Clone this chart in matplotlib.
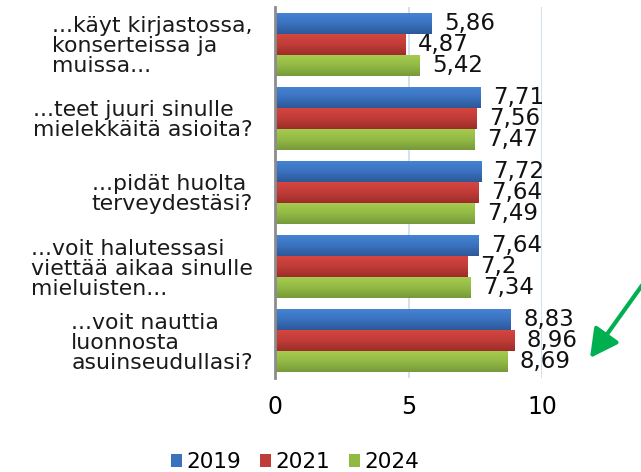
import numpy as np
import matplotlib
matplotlib.use("Agg")
import matplotlib.pyplot as plt
from matplotlib.colors import LinearSegmentedColormap

plt.rcParams['font.family'] = ['DejaVu Sans']

categories = [
    "...käyt kirjastossa,\nkonserteissa ja\nmuissa...",
    "...teet juuri sinulle\nmielekkäitä asioita?",
    "...pidät huolta\nterveydestäsi?",
    "...voit halutessasi\nviettää aikaa sinulle\nmieluisten...",
    "...voit nauttia\nluonnosta\nasuinseudullasi?",
]
years = ["2019", "2021", "2024"]
v2019 = [5.86, 7.71, 7.72, 7.64, 8.83]
v2021 = [4.87, 7.56, 7.64, 7.2, 8.96]
v2024 = [5.42, 7.47, 7.49, 7.34, 8.69]
xticks = [0, 5, 10]

series = [v2019, v2021, v2024]
top_cols = ["#4583D3", "#D4463F", "#A6CB4F"]
bot_cols = ["#2C5898", "#9C2C29", "#77993A"]
mid_cols = ["#3A72BE", "#C03C38", "#92B944"]

fig = plt.figure(figsize=(6.41, 4.72), dpi=100)
ax = fig.add_axes([275/641, 1-378/472, 267/641, 371/472])

y = np.arange(len(categories))
h = 0.283
offsets = [-h, 0, h]
containers = []
for i, (vals, yr) in enumerate(zip(series, years)):
    bc = ax.barh(y + offsets[i], vals, height=h, color=mid_cols[i], label=yr, zorder=3)
    containers.append(bc)
    cmap = LinearSegmentedColormap.from_list("g%d" % i, [top_cols[i], mid_cols[i], bot_cols[i]])
    grad = np.linspace(0, 1, 64).reshape(-1, 1)
    for p in bc.patches:
        x0, y0 = p.get_x(), p.get_y()
        w, hh = p.get_width(), p.get_height()
        im = ax.imshow(grad, cmap=cmap, aspect='auto', extent=(x0, x0 + w, y0 + hh, y0),
                       origin='upper', zorder=4)
        im.set_clip_path(p)
    labels = [("%g" % v).replace('.', ',') for v in vals]
    ax.bar_label(bc, labels=labels, padding=9, fontsize=16.5, color='#111111', zorder=5)

ax.set_xlim(0, 10)
ax.set_ylim(len(categories) - 0.5, -0.5)
ax.set_xticks(xticks)
ax.set_xticklabels([str(t) for t in xticks], fontsize=17)
ax.tick_params(axis='x', length=0, pad=12)
ax.set_yticks(y)
ax.set_yticklabels(categories, fontsize=15.8, multialignment='left', linespacing=1.0,
                   color='#1a1a1a')
ax.tick_params(axis='y', length=0, pad=16)
ax.grid(axis='x', color='#D0DDEC', linewidth=1.3, zorder=0)
for s in ['top', 'right', 'bottom']:
    ax.spines[s].set_visible(False)
ax.spines['left'].set_color('#8C8C8C')
ax.spines['left'].set_linewidth(2)
ax.spines['left'].set_zorder(6)

leg = fig.legend(handles=containers, labels=years, loc='center', bbox_to_anchor=(295/641, 1-462/472),
                 ncol=3, frameon=False, fontsize=15.5, handlelength=0.5, handleheight=0.6,
                 handletextpad=0.2, columnspacing=0.9)

fig.patches.append(matplotlib.patches.FancyArrowPatch(
    (643/641, 1-284/472), (590/641, 1-358/472), transform=fig.transFigure,
    arrowstyle='-|>,head_length=17,head_width=9', color='#00B050', linewidth=3,
    shrinkA=0, shrinkB=0, mutation_scale=1))

fig.savefig("out.png", dpi=100)
